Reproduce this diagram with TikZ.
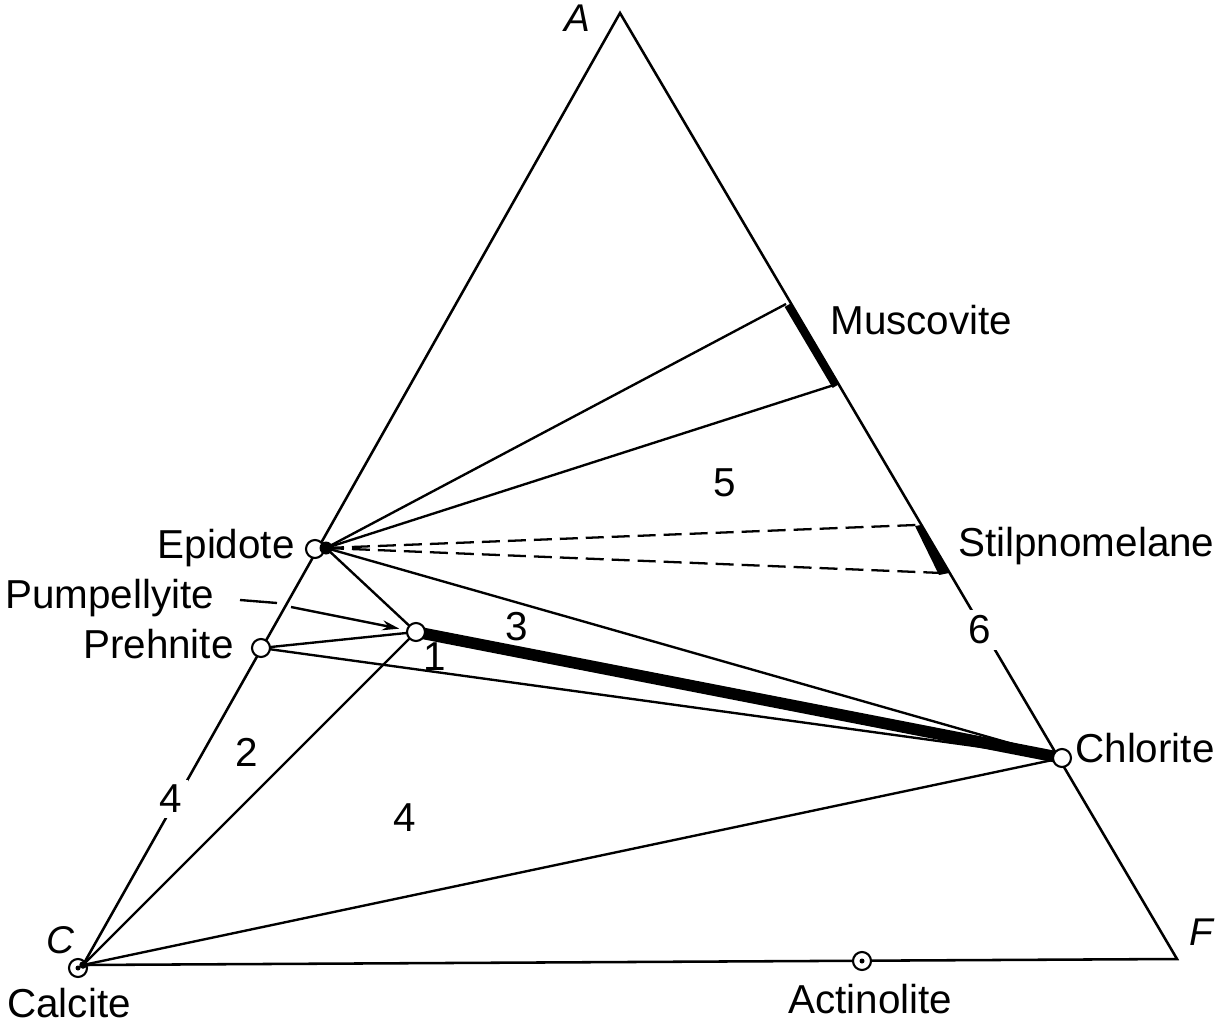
\documentclass[tikz,border=0pt]{standalone}
\usepackage{fontspec}
\setmainfont{Liberation Sans}
\usetikzlibrary{arrows.meta}
\begin{document}
\begin{tikzpicture}[x=0.02cm,y=-0.02cm,
  edge/.style={line width=1.45pt},
  tie/.style={line width=1.35pt},
  dashtie/.style={line width=1.3pt, dash pattern=on 0.36cm off 0.16cm},
  thickband/.style={line width=6.6pt},
  phase/.style={circle, draw, fill=white, line width=1.2pt, minimum size=0.36cm, inner sep=0pt},
  cdot/.style={circle, fill=black, inner sep=0pt, minimum size=0.1cm},
  blob/.style={circle, fill=black, inner sep=0pt, minimum size=0.26cm},
  lbl/.style={font=\fontsize{23}{27}\selectfont, inner sep=0pt},
  num/.style={font=\fontsize{23}{27}\selectfont, inner sep=0pt},
  numgap/.style={font=\fontsize{23}{27}\selectfont, fill=white, inner sep=3pt},
  vtx/.style={font=\fontsize{22}{26}\selectfont\itshape, inner sep=0pt}]
\useasboundingbox (0,0) rectangle (1219,1023);

% vertices and phase points
\coordinate (A) at (620,13);
\coordinate (C) at (83,965);
\coordinate (F) at (1177,959);
\coordinate (ep) at (326,548);
\coordinate (pu) at (416,632);
\coordinate (pr) at (261,648);
\coordinate (ch) at (1062,758);
\coordinate (ac) at (862,961);
\coordinate (mu1) at (786,304);
\coordinate (mu2) at (834,385);
\coordinate (st1) at (916,525);
\coordinate (st2) at (942,573);
\coordinate (aw1) at (240,600);
\coordinate (aw2) at (277,603);
\coordinate (aw3) at (291,607);

% triangle
\draw[edge, line join=miter] (A) -- (F) -- (C) -- cycle;

% tie lines
\draw[tie] (ep) -- (mu1);
\draw[tie] (ep) -- (mu2);
\draw[dashtie] (ep) -- (st1);
\draw[dashtie] (ep) -- (st2);
\draw[tie] (ep) -- (ch);
\draw[tie] (ep) -- (pu);
\draw[tie] (pu) -- (C);
\draw[tie] (pu) -- (pr);
\draw[tie] (pr) -- (ch);
\draw[tie] (C) -- (ch);
\draw[thickband] (pu) -- (ch);

% solid-solution bands on A-F edge
\draw[line width=4.4pt] (788,305) -- (836,386);
\fill (921,525) -- (949,573) -- (939,575) -- (915,526) -- cycle;

% phase circles
\node[phase] (epc) at (315,549) {};
\node[blob] at (ep) {};
\node[phase] (puc) at (pu) {};
\node[phase] (prc) at (pr) {};
\node[phase] (chc) at (ch) {};
\node[phase] (cac) at (78,968) {};
\node[cdot] at (cac) {};
\node[blob, minimum size=0.15cm] at (C) {};
\node[phase] (acc) at (ac) {};
\node[cdot] at (acc) {};

% pumpellyite pointer
\draw[tie] (aw1) -- (aw2);
\draw[tie, -{Stealth[length=0.34cm,width=0.2cm]}, shorten >=0.34cm] (aw3) -- (pu);

% labels
\node[vtx, anchor=base] (lA) at (577,32) {A};
\node[vtx, anchor=base] (lC) at (60,953) {C};
\node[vtx, anchor=base] (lF) at (1201,945) {F};
\node[lbl, anchor=base west] (lmu) at (830,335) {Muscovite};
\node[lbl, anchor=base west] (lst) at (958,556) {Stilpnomelane};
\node[lbl, anchor=base west] (lch) at (1075,762) {Chlorite};
\node[lbl, anchor=base west] (lac) at (788,1013) {Actinolite};
\node[lbl, anchor=base west] (lca) at (7,1017) {Calcite};
\node[lbl, anchor=base east] (lep) at (295,558) {Epidote};
\node[lbl, anchor=base west] (lpu) at (5,608) {Pumpellyite};
\node[lbl, anchor=base east] (lpr) at (234,658) {Prehnite};

% field numbers
\node[num] (n5) at (725,483) {5};
\node[num] (n3) at (517,627) {3};
\node[num] (n1) at (435,657) {1};
\node[num] (n2) at (247,752) {2};
\node[num] (n4a) at (405,818) {4};
\node[numgap] (n4b) at (171,799) {4};
\node[numgap] (n6) at (980,630) {6};
\end{tikzpicture}
\end{document}
